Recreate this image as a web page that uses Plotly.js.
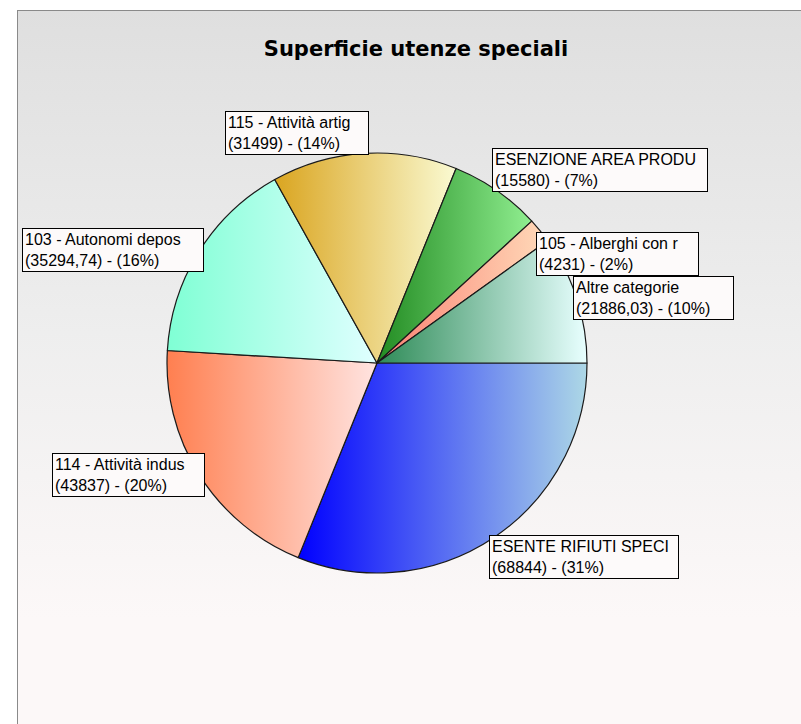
<!DOCTYPE html>
<html>
<head>
<meta charset="utf-8">
<script src="https://cdn.plot.ly/plotly-3.0.1.min.js"></script>
<style>
  html, body { margin: 0; padding: 0; background: #ffffff; width: 801px; height: 724px; overflow: hidden; }
  #frame { position: absolute; left: 17px; top: 10px; width: 784px; height: 714px;
           border-left: 1px solid #8a8a8a; border-top: 1px solid #8a8a8a;
           background: linear-gradient(#dfdfdf 0%, #eeeeee 45%, #fcf8f8 85%, #fcf8f8 100%); }
  #chart { position: absolute; left: 0; top: 0; width: 801px; height: 724px; }
</style>
</head>
<body>
<div id="frame"></div>
<div id="chart"></div>
<script>
// ---- data ----
const categories = [
  "ESENTE RIFIUTI SPECI",
  "114 - Attività indus",
  "103 - Autonomi depos",
  "115 - Attività artig",
  "ESENZIONE AREA PRODU",
  "105 - Alberghi con r",
  "Altre categorie"
];
const values = [68844, 43837, 35294.74, 31499, 15580, 4231, 21886.03];
const chartTitle = "Superficie utenze speciali";

// ---- style / layout (not data) ----
const gradStart = ["#0000ff", "#ff7f50", "#7fffd4", "#daa520", "#228b22", "#fa8072", "#2e8b57"];
const gradEnd   = ["#add8e6", "#ffe4e1", "#e0ffff", "#fafad2", "#90ee90", "#ffdab9", "#e8ffff"];
// label boxes: left, top, width, height in pixels
const boxes = [
  [489, 535, 190, 44],
  [52, 453, 153, 44],
  [22, 228, 182, 44],
  [225, 111, 144, 44],
  [492, 148, 216, 44],
  [536, 232, 163, 44],
  [573, 276, 161, 44]
];

const W = 801, H = 724;
const total = values.reduce((a, b) => a + b, 0);
const fmt = v => String(v).replace('.', ',');

const cx = 377, cy = 363, r = 210;

const trace = {
  type: 'pie',
  values: values,
  labels: categories,
  sort: false,
  direction: 'clockwise',
  rotation: 90,
  textinfo: 'none',
  hoverinfo: 'none',
  marker: { colors: gradStart, line: { color: '#1a1a1a', width: 1.2 } },
  domain: { x: [(cx - r) / W, (cx + r) / W], y: [1 - (cy + r) / H, 1 - (cy - r) / H] },
  showlegend: false
};

const annotations = categories.map((c, i) => {
  const pct = Math.round(values[i] / total * 100);
  const b = boxes[i];
  return {
    xref: 'paper', yref: 'paper',
    x: b[0] / W, y: 1 - b[1] / H,
    xanchor: 'left', yanchor: 'top',
    width: b[2] - 6, height: b[3] - 6,
    align: 'left', valign: 'middle',
    showarrow: false,
    text: c + '<br>(' + fmt(values[i]) + ') - (' + pct + '%)',
    font: { family: 'Liberation Sans, Arial, sans-serif', size: 16, color: '#000000' },
    bgcolor: '#fdfafa',
    bordercolor: '#000000',
    borderwidth: 1,
    borderpad: 2
  };
});

const layout = {
  width: W, height: H,
  margin: { l: 0, r: 0, t: 0, b: 0 },
  paper_bgcolor: 'rgba(0,0,0,0)',
  plot_bgcolor: 'rgba(0,0,0,0)',
  title: {
    text: chartTitle,
    x: 416 / W, xref: 'paper', xanchor: 'center',
    y: 1 - 49 / H, yref: 'container', yanchor: 'middle',
    font: { family: 'DejaVu Sans, sans-serif', size: 21, weight: 'bold', color: '#000000' }
  },
  annotations: annotations
};

Plotly.newPlot('chart', [trace], layout, { staticPlot: true, displayModeBar: false }).then(gd => {
  const svg = gd.querySelector('svg.main-svg');
  const ns = 'http://www.w3.org/2000/svg';
  let defs = svg.querySelector('defs');
  if (!defs) { defs = document.createElementNS(ns, 'defs'); svg.insertBefore(defs, svg.firstChild); }
  gradStart.forEach((c, i) => {
    const lg = document.createElementNS(ns, 'linearGradient');
    lg.setAttribute('id', 'sliceGrad' + i);
    lg.setAttribute('x1', '0'); lg.setAttribute('y1', '0');
    lg.setAttribute('x2', '1'); lg.setAttribute('y2', '0');
    const s1 = document.createElementNS(ns, 'stop');
    s1.setAttribute('offset', '0'); s1.setAttribute('stop-color', c);
    const s2 = document.createElementNS(ns, 'stop');
    s2.setAttribute('offset', '1'); s2.setAttribute('stop-color', gradEnd[i]);
    lg.appendChild(s1); lg.appendChild(s2);
    defs.appendChild(lg);
  });
  const paths = gd.querySelectorAll('.slice path.surface');
  paths.forEach((p, i) => { p.style.fill = 'url(#sliceGrad' + i + ')'; });
});
</script>
</body>
</html>
